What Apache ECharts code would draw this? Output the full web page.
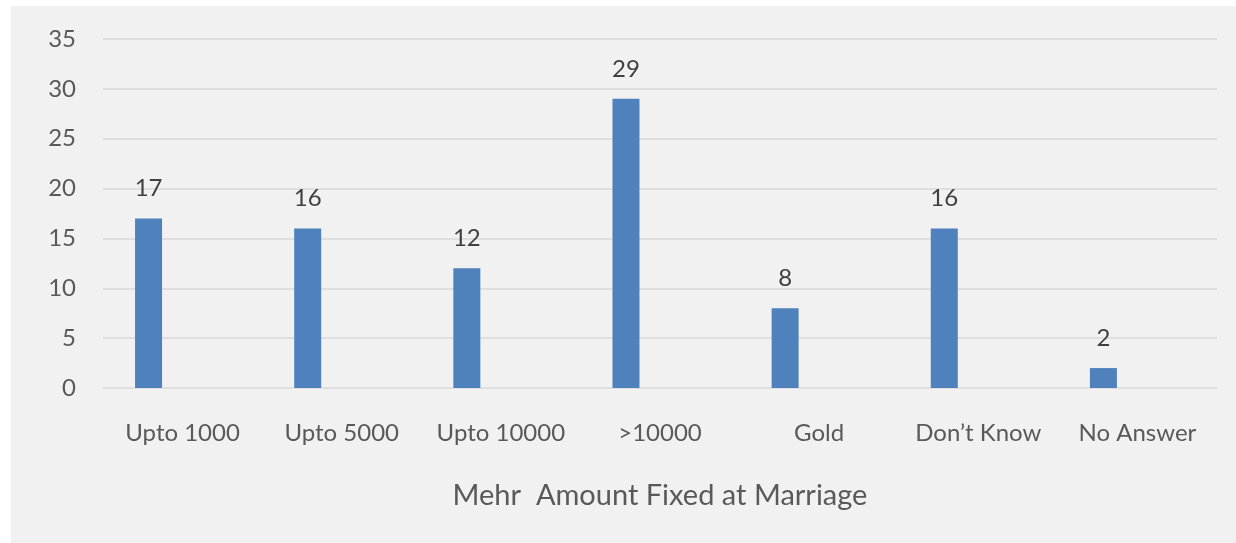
<!DOCTYPE html>
<html>
<head>
<meta charset="utf-8">
<script src="https://cdn.jsdelivr.net/npm/echarts@6/dist/echarts.min.js"></script>
<style>
  html, body { margin: 0; padding: 0; background: #fff; }
  #chart { position: absolute; left: 11px; top: 6px; width: 1225px; height: 537px; }
</style>
</head>
<body>
<div id="chart"></div>
<script>
var categories = ['Upto 1000', 'Upto 5000', 'Upto 10000', '>10000', 'Gold', 'Don\u2019t Know', 'No Answer']
var counts = [17, 16, 12, 29, 8, 16, 2]
// the source chart reserves a second (empty) slot per category
var emptySlot = []
var yTicks = { min: 0, max: 35, interval: 5 }

var chart = echarts.init(document.getElementById('chart'))
chart.setOption({
  backgroundColor: '#f1f1f1',
  animation: false,
  textStyle: { fontFamily: 'Lato' },
  grid: {
    left: 92,
    right: 19,
    top: 33,
    bottom: 155
  },
  xAxis: {
    type: 'category',
    data: categories,
    name: 'Mehr  Amount Fixed at Marriage',
    nameLocation: 'middle',
    nameGap: 93,
    nameTextStyle: { fontSize: 29, color: '#595959' },
    axisLine: { show: false },
    axisTick: { show: false },
    axisLabel: { fontSize: 24, color: '#595959', margin: 33, interval: 0 }
  },
  yAxis: {
    type: 'value',
    min: yTicks.min,
    max: yTicks.max,
    interval: yTicks.interval,
    axisLine: { show: false },
    axisTick: { show: false },
    axisLabel: { fontSize: 24, color: '#595959', margin: 27 },
    splitLine: { lineStyle: { color: '#d9d9d9', width: 1.5 } }
  },
  series: [{
    type: 'bar',
    data: counts,
    barWidth: 27,
    barGap: '152%',
    itemStyle: { color: '#4f81bd' },
    label: {
      show: true,
      position: 'top',
      distance: 18,
      fontSize: 24,
      color: '#404040'
    }
  }, {
    type: 'bar',
    data: emptySlot,
    barWidth: 27
  }]
})
</script>
</body>
</html>
